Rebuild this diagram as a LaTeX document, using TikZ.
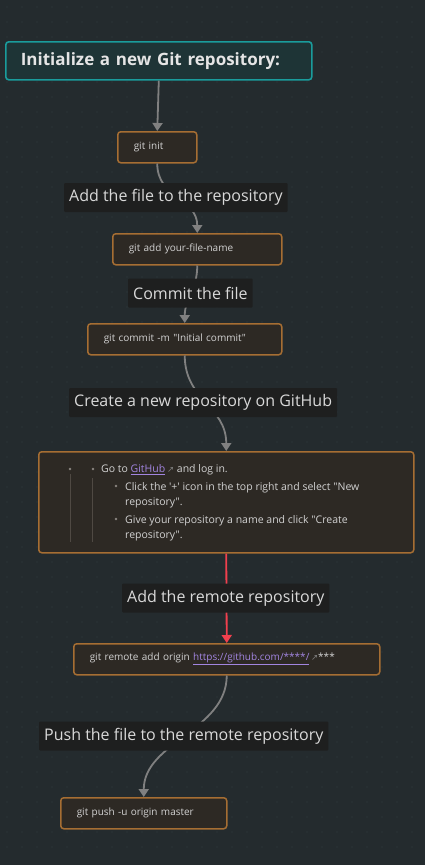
\documentclass[tikz,border=0pt]{standalone}
\usepackage{fontspec}
\setmainfont{Open Sans}[Ligatures=TeXOff]
\newfontfamily\symfont{DejaVu Sans}
\usetikzlibrary{arrows.meta,calc}

\definecolor{canvasbg}{HTML}{242B2E}
\definecolor{gridcol}{HTML}{343D40}
\definecolor{titlefill}{HTML}{1E3436}
\definecolor{titleedge}{HTML}{1A9C9C}
\definecolor{cmdfill}{HTML}{2D2924}
\definecolor{cmdedge}{HTML}{A66E33}
\definecolor{labelfill}{HTML}{1E1F1F}
\definecolor{labeltext}{HTML}{D9D9D9}
\definecolor{cmdtext}{HTML}{D2D2D2}
\definecolor{linkcol}{HTML}{A285E0}
\definecolor{flowgray}{HTML}{808080}
\definecolor{flowred}{HTML}{F2404E}
\definecolor{guidecol}{HTML}{4F4943}
\definecolor{dotcol}{HTML}{8A8580}

\tikzset{
  titlebox/.style={draw=titleedge, fill=titlefill, line width=1.6pt, rounded corners=3pt,
    minimum height=38pt, inner xsep=15pt, inner ysep=0pt, align=left, anchor=north west,
    text=white!90!black, font=\bfseries\fontsize{17}{20}\selectfont},
  cmd/.style={draw=cmdedge, fill=cmdfill, line width=1.5pt, rounded corners=3pt,
    minimum height=31pt, inner xsep=16pt, inner ysep=0pt, align=left, anchor=north west,
    text=cmdtext, font=\fontsize{10}{12}\selectfont},
  steplabel/.style={fill=labelfill, text=labeltext, inner xsep=5pt, inner ysep=0pt,
    minimum height=29pt, rounded corners=1pt, anchor=west, font=\fontsize{16}{19}\selectfont},
  ghline/.style={anchor=base west, inner sep=0pt, text=cmdtext, font=\fontsize{10.5}{12}\selectfont},
  flow/.style={draw=flowgray, line width=1.8pt, -{Triangle[length=8pt,width=10pt]}},
}

\newcommand{\extlink}{\,{\symfont\fontsize{8.5}{9}\selectfont\textcolor{flowgray}{↗}}}

\begin{document}
\begin{tikzpicture}[x=1pt,y=-1pt]
  % canvas
  \fill[canvasbg] (0,0) rectangle (425,865);
  \useasboundingbox (0,0) rectangle (425,865);
  \foreach \gx in {7,22,...,420}
    \foreach \gy in {7,22,...,860}
      \fill[gridcol] (\gx,\gy) circle (0.6);

  % boxes
  \node[titlebox, text width=276pt] (init) at (5,41) {Initialize a new Git repository:};
  \node[cmd, text width=47pt] (gitinit) at (117,131) {git init};
  \node[cmd, text width=137pt] (gitadd) at (112,233) {git add your-file-name};
  \node[cmd, text width=162pt] (gitcommit) at (87,323) {git commit -m "Initial commit"};
  \node[cmd, minimum width=375pt, minimum height=101pt] (ghbox) at (38,451) {};
  \node[cmd, text width=274pt] (gitremote) at (73,643)
    {git remote add origin \textcolor{linkcol}{\underline{https://github.com/****/}}\extlink***};
  \node[cmd, text width=134pt] (gitpush) at (60,797) {git push -u origin master};

  % list inside the GitHub box
  \fill[dotcol] (70,469) circle (1.4);
  \draw[guidecol, line width=0.8pt] (70,474) -- (70,542);
  \draw[guidecol, line width=0.8pt] (92,478) -- (92,542);
  \fill[dotcol] (93,469) circle (1.4);
  \fill[dotcol] (116,486) circle (1.4);
  \fill[dotcol] (116,519) circle (1.4);
  \node[ghline] (gh1) at (101,472.5) {Go to \textcolor{linkcol}{\underline{GitHub}}\extlink{} and log in.};
  \node[ghline] (gh2) at (125,490) {Click the '+' icon in the top right and select "New};
  \node[ghline] (gh3) at (125,505) {repository".};
  \node[ghline] (gh4) at (125,523) {Give your repository a name and click "Create};
  \node[ghline] (gh5) at (125,538) {repository".};

  % connectors
  \draw[flow] (init.south) -- (gitinit.north);
  \draw[flow] (gitinit.south) .. controls +(0,35) and +(0,-35) .. (gitadd.north);
  \draw[flow] (gitadd.south) .. controls +(0,25) and +(0,-25) .. (gitcommit.north);
  \draw[flow] (gitcommit.south) .. controls +(0,45) and +(0,-45) .. (ghbox.north);
  \draw[flow, draw=flowred, fill=flowred] (ghbox.south) -- (gitremote.north);
  \draw[flow] (gitremote.south) .. controls +(0,55) and +(0,-55) .. (gitpush.north);

  % step labels
  \node[steplabel] (addfile) at (64,197.5) {Add the file to the repository};
  \node[steplabel] (commit) at (128,293) {Commit the file};
  \node[steplabel] (create) at (69,402.5) {Create a new repository on GitHub};
  \node[steplabel] (addremote) at (122,598) {Add the remote repository};
  \node[steplabel] (push) at (39,736) {Push the file to the remote repository};
\end{tikzpicture}
\end{document}
